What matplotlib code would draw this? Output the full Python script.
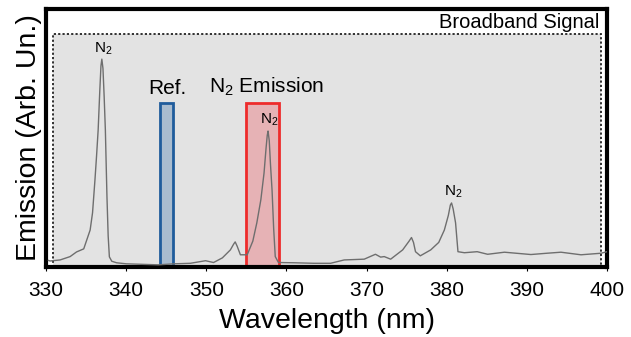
import matplotlib.pyplot as plt
from matplotlib.patches import Rectangle

plt.rcParams['font.family'] = ['Liberation Sans', 'DejaVu Sans']
plt.rcParams['mathtext.fontset'] = 'custom'
plt.rcParams['mathtext.rm'] = 'Liberation Sans'
plt.rcParams['mathtext.it'] = 'Liberation Sans'

# spectrum (nm, arb. units)
wl = [330.3, 330.5, 331.75, 333.0, 333.8, 334.7, 335.5, 335.8, 336.1, 336.3,
      336.5, 336.7, 336.85, 336.96, 337.1, 337.25, 337.4, 337.5, 337.6, 337.75,
      337.9, 338.2, 338.8, 340.0, 342.0, 344.0, 346.0, 348.0, 349.9, 350.9,
      352.0, 353.0, 353.4, 353.6, 353.85, 354.25, 355.1, 355.8, 356.3, 356.8,
      357.2, 357.45, 357.6, 357.7, 357.85, 358.0, 358.2, 358.4, 358.6, 359.0,
      361.0, 363.4, 365.5, 367.2, 369.7, 371.1, 371.75, 372.2, 373.0, 374.5,
      375.3, 375.6, 375.85, 376.1, 376.7, 378.0, 379.0, 379.7, 380.2, 380.45,
      380.6, 380.8, 381.1, 381.4, 382.2, 383.8, 385.1, 387.2, 390.5, 392.5,
      394.25, 396.75, 399.25, 400.0]
em = [0.025, 0.023, 0.027, 0.040, 0.058, 0.070, 0.143, 0.21, 0.337, 0.43,
      0.531, 0.68, 0.78, 0.806, 0.77, 0.66, 0.531, 0.40, 0.271, 0.12,
      0.039, 0.022, 0.016, 0.012, 0.010, 0.008, 0.012, 0.014, 0.024, 0.017,
      0.035, 0.066, 0.088, 0.097, 0.080, 0.047, 0.047, 0.10, 0.171, 0.26,
      0.364, 0.46, 0.51, 0.527, 0.49, 0.40, 0.298, 0.15, 0.040, 0.017,
      0.016, 0.014, 0.014, 0.027, 0.030, 0.049, 0.038, 0.040, 0.030, 0.066,
      0.100, 0.114, 0.095, 0.059, 0.043, 0.066, 0.095, 0.143, 0.20, 0.24,
      0.248, 0.225, 0.171, 0.059, 0.055, 0.059, 0.049, 0.057, 0.048, 0.053,
      0.057, 0.047, 0.053, 0.059]

broadband = (330.9, 399.25, 0.905)   # x0, x1, top
ref_band = (344.17, 345.83, 0.634)
n2_band = (354.9, 359.1, 0.634)
peaks = [(336.96, 0.806), (357.7, 0.527), (380.6, 0.248)]
xticks = [330, 340, 350, 360, 370, 380, 390, 400]

fig = plt.figure(figsize=(6.31, 3.37), dpi=100)
ax = fig.add_axes([0.073, 0.208, 0.889, 0.765])

ax.add_patch(Rectangle((broadband[0], 0), broadband[1] - broadband[0], broadband[2],
                       facecolor='#e3e3e3', edgecolor='#222222', lw=1.3,
                       linestyle=(0, (1.2, 1.2)), zorder=1))
ax.add_patch(Rectangle((ref_band[0], 0), ref_band[1] - ref_band[0], ref_band[2],
                       facecolor='#a9bccf', edgecolor='#1f5c9c', lw=2, zorder=2))
ax.add_patch(Rectangle((n2_band[0], 0), n2_band[1] - n2_band[0], n2_band[2],
                       facecolor='#e6b2b5', edgecolor='#ee2b2b', lw=2, zorder=2))

ax.plot(wl, em, color='#6e6e6e', lw=1, zorder=3)

for px, py in peaks:
    ax.text(px + 0.2, py + 0.01, 'N$_2$', fontsize=11, ha='center', va='bottom', zorder=4)

ax.text(345.1, 0.655, 'Ref.', fontsize=15, ha='center', va='bottom')
ax.text(357.5, 0.655, 'N$_2$ Emission', fontsize=15, ha='center', va='bottom')
ax.text(399.1, 0.912, 'Broadband Signal', fontsize=14.5, ha='right', va='bottom')

ax.set_xlim(330, 400)
ax.set_ylim(0, 1)
ax.set_xticks(xticks)
ax.set_yticks([])
ax.tick_params(axis='x', labelsize=15, length=3, width=0.8, pad=7)
for s in ax.spines.values():
    s.set_linewidth(3)
ax.set_xlabel('Wavelength (nm)', fontsize=20.5, labelpad=6)
ax.set_ylabel('Emission (Arb. Un.)', fontsize=20.5, labelpad=3)

fig.savefig('out.png', dpi=100)
